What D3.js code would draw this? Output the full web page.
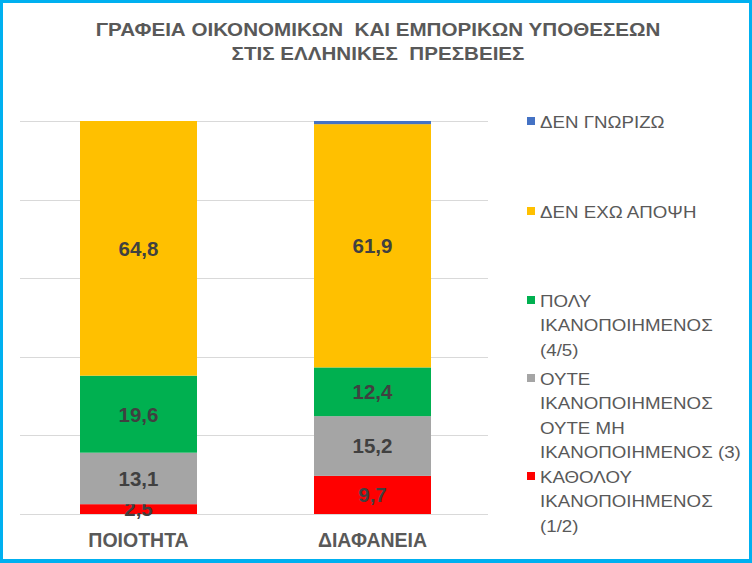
<!DOCTYPE html>
<html>
<head>
<meta charset="utf-8">
<script src="https://cdn.jsdelivr.net/npm/d3@7"></script>
<style>
	body { margin: 0; background: #fff; }
	svg { display: block; font-family: "Liberation Sans", Arial, sans-serif; }
</style>
</head>
<body>
<div id="chart"></div>
<script>
// data
const categories = ["ΠΟΙΟΤΗΤΑ", "ΔΙΑΦΑΝΕΙΑ"];
const seriesKeys = ["kathólou", "oute", "poly", "denEcho", "denGnorizo"];
const kathólou = [2.5, 9.7];
const oute = [13.1, 15.2];
const poly = [19.6, 12.4];
const denEcho = [64.8, 61.9];
const denGnorizo = [0, 0.8];
const seriesColors = ["#FF0000", "#A5A5A5", "#00B050", "#FFC000", "#4472C4"];
const labelled = [true, true, true, true, false];
const legendLines = [
	["ΚΑΘΟΛΟΥ", "ΙΚΑΝΟΠΟΙΗΜΕΝΟΣ", "(1/2)"],
	["ΟΥΤΕ", "ΙΚΑΝΟΠΟΙΗΜΕΝΟΣ", "ΟΥΤΕ ΜΗ", "ΙΚΑΝΟΠΟΙΗΜΕΝΟΣ (3)"],
	["ΠΟΛΥ", "ΙΚΑΝΟΠΟΙΗΜΕΝΟΣ", "(4/5)"],
	["ΔΕΝ ΕΧΩ ΑΠΟΨΗ"],
	["ΔΕΝ ΓΝΩΡΙΖΩ"]
];
const titleLines = ["ΓΡΑΦΕΙΑ ΟΙΚΟΝΟΜΙΚΩΝ  ΚΑΙ ΕΜΠΟΡΙΚΩΝ ΥΠΟΘΕΣΕΩΝ", "ΣΤΙΣ ΕΛΛΗΝΙΚΕΣ  ΠΡΕΣΒΕΙΕΣ"];
const yTicks = [0, 20, 40, 60, 80, 100];

const seriesValues = [kathólou, oute, poly, denEcho, denGnorizo];

const width = 752, height = 563;
const svg = d3.select("#chart").append("svg")
	.attr("width", width)
	.attr("height", height);

// frame
svg.append("rect").attr("width", width).attr("height", height).attr("fill", "#00B0F0");
svg.append("rect").attr("x", 3).attr("y", 3).attr("width", width - 6).attr("height", height - 7).attr("fill", "#fff");

const x = d3.scaleBand()
	.domain(categories)
	.range([21.5, 489.5])
	.paddingInner(0.5)
	.paddingOuter(0.25);
const y = d3.scaleLinear().domain([0, 100]).range([514, 121]);

// gridlines
svg.append("g").selectAll("line")
	.data(yTicks).enter()
	.append("line")
	.attr("x1", 20).attr("x2", 488)
	.attr("y1", d => Math.round(y(d)) + 0.5)
	.attr("y2", d => Math.round(y(d)) + 0.5)
	.attr("stroke", "#D9D9D9")
	.attr("stroke-width", 1);

// stack
const rows = categories.map((c, i) => {
	let r = { cat: c };
	seriesKeys.forEach((k, s) => r[k] = seriesValues[s][i]);
	return r;
});
const stacked = d3.stack().keys(seriesKeys)(rows);

const layers = svg.append("g").selectAll("g")
	.data(stacked).enter()
	.append("g")
	.attr("fill", (d, i) => seriesColors[i]);

layers.selectAll("rect")
	.data(d => d).enter()
	.append("rect")
	.attr("x", d => x(d.data.cat))
	.attr("width", x.bandwidth())
	.attr("y", d => y(d[1]))
	.attr("height", d => y(d[0]) - y(d[1]));

const fmt = v => d3.format(".1f")(v).replace(".", ",");

layers.filter((d, i) => labelled[i]).selectAll("text")
	.data(d => d).enter()
	.append("text")
	.attr("x", d => x(d.data.cat) + x.bandwidth() / 2)
	.attr("y", d => (y(d[0]) + y(d[1])) / 2)
	.attr("dy", "0.36em")
	.attr("text-anchor", "middle")
	.attr("fill", "#404040")
	.attr("font-size", 20.5)
	.attr("font-weight", "bold")
	.text(d => fmt(d[1] - d[0]));

// category axis
svg.append("g").selectAll("text")
	.data(categories).enter()
	.append("text")
	.attr("x", d => x(d) + x.bandwidth() / 2)
	.attr("y", 547)
	.attr("text-anchor", "middle")
	.attr("fill", "#595959")
	.attr("font-size", 19.5)
	.attr("font-weight", "bold")
	.text(d => d);

// title, a bit wider than the plain font
svg.append("g").selectAll("text")
	.data(titleLines).enter()
	.append("text")
	.attr("transform", (d, i) => "translate(378," + (36 + i * 24) + ") scale(1.145,1)")
	.attr("text-anchor", "middle")
	.attr("fill", "#595959")
	.attr("font-size", 18)
	.attr("font-weight", "bold")
	.style("white-space", "pre")
	.text(d => d);

// legend, top entry is the last series
const legendTop = [483, 385, 307, 218, 128];
const legend = svg.append("g").selectAll("g")
	.data(legendLines).enter()
	.append("g")
	.attr("transform", (d, i) => "translate(0," + legendTop[i] + ")");

legend.append("rect")
	.attr("x", 527).attr("y", -11)
	.attr("width", 8).attr("height", 8)
	.attr("fill", (d, i) => seriesColors[i]);

legend.selectAll("text")
	.data(d => d).enter()
	.append("text")
	.attr("transform", (d, j) => "translate(540," + (j * 24.3) + ") scale(1.17,1)")
	.attr("fill", "#595959")
	.attr("font-size", 16)
	.text(d => d);
</script>
</body>
</html>
